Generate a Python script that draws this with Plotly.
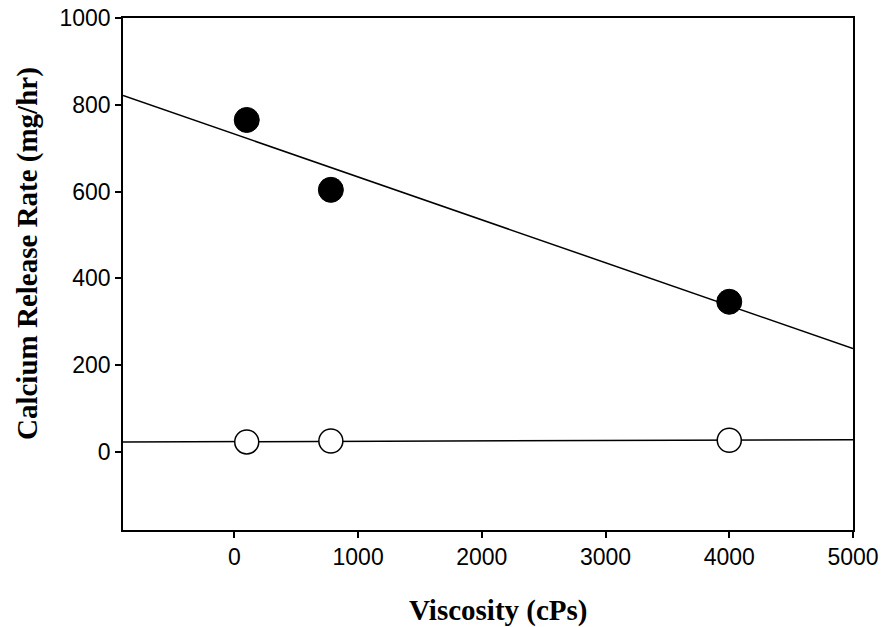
import numpy as np
import plotly.graph_objects as go

# Data
viscosity = [100, 780, 4000]
release_filled = [765, 604, 346]
release_open = [23, 25, 27]
x_range_line = [-900, 5000]

x_ticks = [0, 1000, 2000, 3000, 4000, 5000]
y_ticks = [0, 200, 400, 600, 800, 1000]

# Linear fits
p1 = np.polyfit(viscosity, release_filled, 1)
p2 = np.polyfit(viscosity, release_open, 1)
fit_x = np.array(x_range_line, dtype=float)

fig = go.Figure()
fig.add_trace(go.Scatter(x=fit_x, y=np.polyval(p1, fit_x), mode="lines",
                         line=dict(color="black", width=1.5), showlegend=False))
fig.add_trace(go.Scatter(x=fit_x, y=np.polyval(p2, fit_x), mode="lines",
                         line=dict(color="black", width=1.5), showlegend=False))
fig.add_trace(go.Scatter(x=viscosity, y=release_filled, mode="markers",
                         marker=dict(size=25, color="black", line=dict(color="black", width=1)),
                         showlegend=False))
fig.add_trace(go.Scatter(x=viscosity, y=release_open, mode="markers",
                         marker=dict(size=24, color="white", line=dict(color="black", width=1.5)),
                         showlegend=False))

title_font = dict(family="Liberation Serif, Times New Roman", size=29, color="black")

fig.update_layout(
    width=888, height=627,
    margin=dict(l=123, r=35, t=18, b=97),
    plot_bgcolor="white", paper_bgcolor="white",
    font=dict(family="Liberation Sans, Arial", size=23, color="black"),
    annotations=[
        dict(text="<b>Viscosity (cPs)</b>", xref="paper", yref="paper",
             x=0.515, y=0, xanchor="center", yanchor="middle", yshift=-80,
             showarrow=False, font=title_font),
        dict(text="<b>Calcium Release Rate (mg/hr)</b>", xref="paper", yref="paper",
             x=0, y=0.539, xanchor="center", yanchor="middle", xshift=-96,
             textangle=-90, showarrow=False, font=title_font),
    ],
)
fig.update_xaxes(
    range=[-900, 5000], tickvals=x_ticks, ticks="outside", ticklen=6, tickwidth=1.5,
    tickcolor="black", showgrid=False, zeroline=False, automargin=False,
    ticklabeloverflow="allow",
    showline=True, linecolor="black", linewidth=1.5, mirror=True,
)
fig.update_yaxes(
    range=[-180, 1000], tickvals=y_ticks, ticks="outside", ticklen=6, tickwidth=1.5,
    tickcolor="black", showgrid=False, zeroline=False, automargin=False,
    ticklabeloverflow="allow",
    showline=True, linecolor="black", linewidth=1.5, mirror=True,
)

fig.write_html("out.html", config={"displayModeBar": False},
               post_script="document.body.style.margin='0';")
